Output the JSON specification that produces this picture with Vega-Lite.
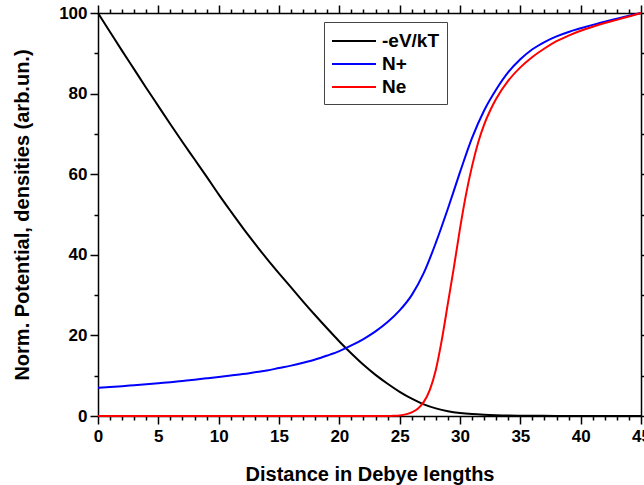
{
  "$schema": "https://vega.github.io/schema/vega-lite/v6.json",
  "width": 543,
  "height": 403,
  "autosize": "none",
  "padding": {"left": 98, "top": 13, "right": 3, "bottom": 69},
  "config": {
    "view": {"stroke": null},
    "font": "Liberation Sans",
    "axis": {"grid": false, "domainColor": "black", "tickColor": "black", "domainWidth": 1.5, "tickWidth": 1.5, "labelColor": "black", "titleColor": "black"}
  },
  "data": {
    "values": [
      {"x": 0, "v": 100, "s": "-eV/kT"}, {"x": 1, "v": 95.3, "s": "-eV/kT"}, {"x": 2, "v": 90.6, "s": "-eV/kT"}, {"x": 3, "v": 86.0, "s": "-eV/kT"}, {"x": 4, "v": 81.4, "s": "-eV/kT"}, {"x": 5, "v": 76.9, "s": "-eV/kT"}, {"x": 6, "v": 72.4, "s": "-eV/kT"}, {"x": 7, "v": 68.0, "s": "-eV/kT"}, {"x": 8, "v": 63.7, "s": "-eV/kT"}, {"x": 9, "v": 59.4, "s": "-eV/kT"}, {"x": 10, "v": 55.0, "s": "-eV/kT"}, {"x": 11, "v": 50.8, "s": "-eV/kT"}, {"x": 12, "v": 46.7, "s": "-eV/kT"}, {"x": 13, "v": 42.8, "s": "-eV/kT"}, {"x": 14, "v": 39.0, "s": "-eV/kT"}, {"x": 15, "v": 35.4, "s": "-eV/kT"}, {"x": 16, "v": 31.9, "s": "-eV/kT"}, {"x": 17, "v": 28.4, "s": "-eV/kT"}, {"x": 18, "v": 25.0, "s": "-eV/kT"}, {"x": 19, "v": 21.7, "s": "-eV/kT"}, {"x": 20, "v": 18.5, "s": "-eV/kT"}, {"x": 21, "v": 15.5, "s": "-eV/kT"}, {"x": 22, "v": 12.7, "s": "-eV/kT"}, {"x": 23, "v": 10.2, "s": "-eV/kT"}, {"x": 24, "v": 8.0, "s": "-eV/kT"}, {"x": 25, "v": 6.0, "s": "-eV/kT"}, {"x": 26, "v": 4.3, "s": "-eV/kT"}, {"x": 27, "v": 2.9, "s": "-eV/kT"}, {"x": 28, "v": 1.9, "s": "-eV/kT"}, {"x": 29, "v": 1.2, "s": "-eV/kT"}, {"x": 30, "v": 0.75, "s": "-eV/kT"}, {"x": 31, "v": 0.47, "s": "-eV/kT"}, {"x": 32, "v": 0.3, "s": "-eV/kT"}, {"x": 33, "v": 0.19, "s": "-eV/kT"}, {"x": 34, "v": 0.12, "s": "-eV/kT"}, {"x": 35, "v": 0.08, "s": "-eV/kT"}, {"x": 36, "v": 0.05, "s": "-eV/kT"}, {"x": 38, "v": 0.02, "s": "-eV/kT"}, {"x": 40, "v": 0.01, "s": "-eV/kT"}, {"x": 45, "v": 0, "s": "-eV/kT"},
      {"x": 0, "v": 7.0, "s": "N+"}, {"x": 1, "v": 7.2, "s": "N+"}, {"x": 2, "v": 7.4, "s": "N+"}, {"x": 3, "v": 7.65, "s": "N+"}, {"x": 4, "v": 7.9, "s": "N+"}, {"x": 5, "v": 8.15, "s": "N+"}, {"x": 6, "v": 8.4, "s": "N+"}, {"x": 7, "v": 8.7, "s": "N+"}, {"x": 8, "v": 9.0, "s": "N+"}, {"x": 9, "v": 9.35, "s": "N+"}, {"x": 10, "v": 9.7, "s": "N+"}, {"x": 11, "v": 10.05, "s": "N+"}, {"x": 12, "v": 10.4, "s": "N+"}, {"x": 13, "v": 10.85, "s": "N+"}, {"x": 14, "v": 11.3, "s": "N+"}, {"x": 15, "v": 11.9, "s": "N+"}, {"x": 16, "v": 12.5, "s": "N+"}, {"x": 17, "v": 13.2, "s": "N+"}, {"x": 18, "v": 14.0, "s": "N+"}, {"x": 19, "v": 15.0, "s": "N+"}, {"x": 20, "v": 16.1, "s": "N+"}, {"x": 21, "v": 17.5, "s": "N+"}, {"x": 22, "v": 19.1, "s": "N+"}, {"x": 23, "v": 21.0, "s": "N+"}, {"x": 24, "v": 23.3, "s": "N+"}, {"x": 25, "v": 26.2, "s": "N+"}, {"x": 26, "v": 30.0, "s": "N+"}, {"x": 27, "v": 35.5, "s": "N+"}, {"x": 28, "v": 43.0, "s": "N+"}, {"x": 29, "v": 51.5, "s": "N+"}, {"x": 30, "v": 60.5, "s": "N+"}, {"x": 31, "v": 69.0, "s": "N+"}, {"x": 32, "v": 75.8, "s": "N+"}, {"x": 33, "v": 81.0, "s": "N+"}, {"x": 34, "v": 85.3, "s": "N+"}, {"x": 35, "v": 88.5, "s": "N+"}, {"x": 36, "v": 91.0, "s": "N+"}, {"x": 37, "v": 92.8, "s": "N+"}, {"x": 38, "v": 94.2, "s": "N+"}, {"x": 39, "v": 95.3, "s": "N+"}, {"x": 40, "v": 96.2, "s": "N+"}, {"x": 41, "v": 97.05, "s": "N+"}, {"x": 42, "v": 97.85, "s": "N+"}, {"x": 43, "v": 98.55, "s": "N+"}, {"x": 44, "v": 99.3, "s": "N+"}, {"x": 45, "v": 100, "s": "N+"},
      {"x": 0, "v": 0, "s": "Ne"}, {"x": 10, "v": 0, "s": "Ne"}, {"x": 20, "v": 0, "s": "Ne"}, {"x": 24, "v": 0, "s": "Ne"}, {"x": 24.5, "v": 0.05, "s": "Ne"}, {"x": 25, "v": 0.15, "s": "Ne"}, {"x": 25.5, "v": 0.4, "s": "Ne"}, {"x": 26, "v": 0.9, "s": "Ne"}, {"x": 26.5, "v": 1.8, "s": "Ne"}, {"x": 27, "v": 3.5, "s": "Ne"}, {"x": 27.5, "v": 6.5, "s": "Ne"}, {"x": 28, "v": 11.5, "s": "Ne"}, {"x": 28.5, "v": 19.0, "s": "Ne"}, {"x": 29, "v": 28.0, "s": "Ne"}, {"x": 29.5, "v": 37.0, "s": "Ne"}, {"x": 30, "v": 46.5, "s": "Ne"}, {"x": 30.5, "v": 55.0, "s": "Ne"}, {"x": 31, "v": 62.0, "s": "Ne"}, {"x": 31.5, "v": 67.8, "s": "Ne"}, {"x": 32, "v": 72.3, "s": "Ne"}, {"x": 32.5, "v": 75.8, "s": "Ne"}, {"x": 33, "v": 78.7, "s": "Ne"}, {"x": 34, "v": 83.2, "s": "Ne"}, {"x": 35, "v": 86.5, "s": "Ne"}, {"x": 36, "v": 89.1, "s": "Ne"}, {"x": 37, "v": 91.2, "s": "Ne"}, {"x": 38, "v": 93.0, "s": "Ne"}, {"x": 39, "v": 94.4, "s": "Ne"}, {"x": 40, "v": 95.6, "s": "Ne"}, {"x": 41, "v": 96.6, "s": "Ne"}, {"x": 42, "v": 97.5, "s": "Ne"}, {"x": 43, "v": 98.3, "s": "Ne"}, {"x": 44, "v": 99.15, "s": "Ne"}, {"x": 45, "v": 100, "s": "Ne"}
    ]
  },
  "layer": [
    {
      "mark": {"type": "line", "strokeWidth": 2, "interpolate": "monotone"},
      "encoding": {
        "x": {"field": "x", "type": "quantitative", "scale": {"domain": [0, 45], "nice": false, "zero": false},
          "axis": {"orient": "bottom", "values": [0, 5, 10, 15, 20, 25, 30, 35, 40, 45], "tickSize": 8, "labelFontSize": 17, "labelFontWeight": "bold", "labelPadding": 4, "labelFlush": false, "title": "Distance in Debye lengths", "titleFontSize": 20, "titleFontWeight": "bold", "titlePadding": 20}},
        "y": {"field": "v", "type": "quantitative", "scale": {"domain": [0, 100], "nice": false, "zero": false},
          "axis": {"orient": "left", "values": [0, 20, 40, 60, 80, 100], "tickSize": 8, "labelFontSize": 17, "labelFontWeight": "bold", "labelPadding": 3, "labelFlush": false, "title": "Norm. Potential, densities (arb.un.)", "titleFontSize": 20, "titleFontWeight": "bold", "titlePadding": 26}},
        "color": {"field": "s", "type": "nominal", "scale": {"domain": ["-eV/kT", "N+", "Ne"], "range": ["#000000", "#0000ff", "#ff0000"]},
          "legend": {"orient": "none", "legendX": 226, "legendY": 9, "title": null, "symbolType": "M-2,0H2", "symbolSize": 484, "symbolStrokeWidth": 2, "symbolOffset": 11, "labelFontSize": 19, "labelFontWeight": "bold", "labelColor": "black", "labelOffset": 16, "strokeColor": "#444444", "fillColor": "white", "padding": 7, "rowPadding": 1}}
      }
    },
    {
      "mark": {"type": "point", "opacity": 0},
      "encoding": {
        "x": {"field": "x", "type": "quantitative", "scale": {"domain": [0, 45], "nice": false, "zero": false},
          "axis": {"orient": "bottom", "values": [1, 2, 3, 4, 6, 7, 8, 9, 11, 12, 13, 14, 16, 17, 18, 19, 21, 22, 23, 24, 26, 27, 28, 29, 31, 32, 33, 34, 36, 37, 38, 39, 41, 42, 43, 44], "tickSize": 4, "labels": false, "domain": false, "title": null}},
        "y": {"field": "v", "type": "quantitative", "scale": {"domain": [0, 100], "nice": false, "zero": false},
          "axis": {"orient": "left", "values": [10, 30, 50, 70, 90], "tickSize": 4, "labels": false, "domain": false, "title": null}}
      }
    },
    {
      "mark": {"type": "point", "opacity": 0},
      "encoding": {
        "x": {"field": "x", "type": "quantitative", "scale": {"domain": [0, 45], "nice": false, "zero": false},
          "axis": {"orient": "top", "values": [0, 5, 10, 15, 20, 25, 30, 35, 40, 45], "tickSize": 8, "labels": false, "title": null}},
        "y": {"field": "v", "type": "quantitative", "scale": {"domain": [0, 100], "nice": false, "zero": false},
          "axis": {"orient": "right", "values": [0, 20, 40, 60, 80, 100], "tickSize": 8, "labels": false, "title": null}}
      }
    },
    {
      "mark": {"type": "point", "opacity": 0},
      "encoding": {
        "x": {"field": "x", "type": "quantitative", "scale": {"domain": [0, 45], "nice": false, "zero": false},
          "axis": {"orient": "top", "values": [1, 2, 3, 4, 6, 7, 8, 9, 11, 12, 13, 14, 16, 17, 18, 19, 21, 22, 23, 24, 26, 27, 28, 29, 31, 32, 33, 34, 36, 37, 38, 39, 41, 42, 43, 44], "tickSize": 4, "labels": false, "domain": false, "title": null}},
        "y": {"field": "v", "type": "quantitative", "scale": {"domain": [0, 100], "nice": false, "zero": false},
          "axis": {"orient": "right", "values": [10, 30, 50, 70, 90], "tickSize": 4, "labels": false, "domain": false, "title": null}}
      }
    }
  ],
  "resolve": {"axis": {"x": "independent", "y": "independent"}}
}
